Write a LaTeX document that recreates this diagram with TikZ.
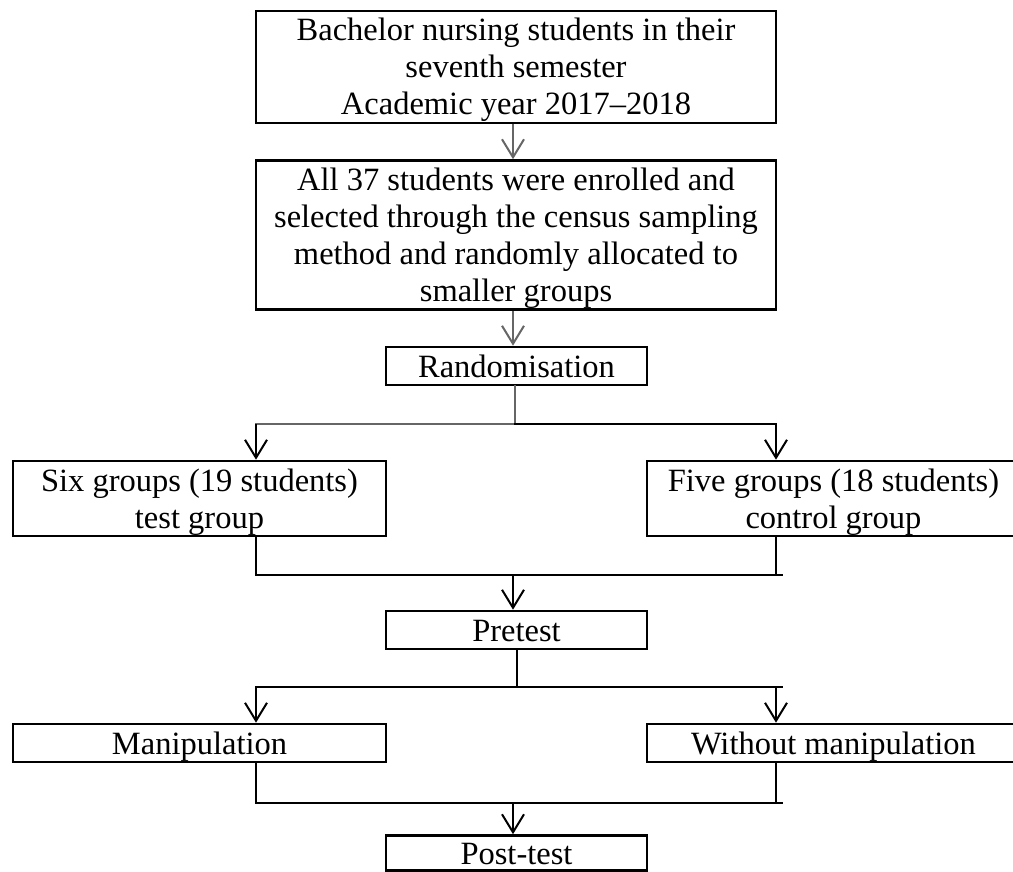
\documentclass[tikz,border=0pt]{standalone}
\usepackage{fontspec}
\setmainfont{Liberation Serif}
\usetikzlibrary{arrows.meta}
\newcommand\topstrut{\rule{0pt}{30pt}}
\newcommand\botstrut{\rule[-8pt]{0pt}{8pt}}
\begin{document}
\begin{tikzpicture}[x=1pt,y=-1pt,
  box/.style={draw, line width=2.6pt, inner sep=0pt, align=center,
    font=\fontsize{32.5}{37}\selectfont},
  conn/.style={line width=2pt, line cap=rect},
  arr/.style={line width=2pt, -{Straight Barb[length=18pt,width=22pt]}},
  greyline/.style={draw=black!60},
]
\clip (0,0) rectangle (1013,872);
\fill[white] (0,0) rectangle (1013,872);

\node[box, minimum width=520pt, minimum height=112pt] (top) at (516,67)
  {\topstrut Bachelor nursing students in their\\seventh semester\\Academic year 2017--2018\botstrut};
\node[box, minimum width=520pt, minimum height=149pt] (all) at (516,235)
  {\topstrut All 37 students were enrolled and\\selected through the census sampling\\method and randomly allocated to\\smaller groups\botstrut};
\node[box, minimum width=261pt, minimum height=38pt] (rand) at (516.5,366) {\topstrut Randomisation\botstrut};
\node[box, minimum width=373pt, minimum height=75pt] (six) at (199.5,498.5)
  {\topstrut Six groups (19 students)\\test group\botstrut};
\node[box, minimum width=373pt, minimum height=75pt] (five) at (833.5,498.5)
  {\topstrut Five groups (18 students)\\control group\botstrut};
\node[box, minimum width=261pt, minimum height=38pt] (pre) at (516.5,630) {\topstrut Pretest\botstrut};
\node[box, minimum width=373pt, minimum height=38pt] (man) at (199.5,743) {\topstrut Manipulation\botstrut};
\node[box, minimum width=373pt, minimum height=38pt] (wo) at (833.5,743) {\topstrut Without manipulation\botstrut};
\node[box, minimum width=261pt, minimum height=35pt] (post) at (516.5,853)
  {\rule{0pt}{28pt}Post-test\rule[-6pt]{0pt}{6pt}};

% column of the central arrows
\coordinate (cx) at (513,0);

% top arrows
\draw[arr, greyline] (top.south -| cx) -- (all.north -| cx);
\draw[arr, greyline] (all.south -| cx) -- (rand.north -| cx);

% split after randomisation
\coordinate (s1) at (515,424);
\coordinate (sL) at (256,424);
\coordinate (sR) at (776,424);
\draw[conn, greyline] (rand.south -| s1) -- (s1) -- (sL);
\draw[conn] (s1) -- (sR);
\draw[arr] (sL) -- (sL |- six.north);
\draw[arr] (sR) -- (sR |- five.north);

% merge to pretest
\coordinate (m1L) at (256,575);
\coordinate (m1R) at (776,575);
\coordinate (m1E) at (782,575);
\coordinate (m1C) at (513,575);
\draw[conn] (m1L |- six.south) -- (m1L) -- (m1E);
\draw[conn] (m1R |- five.south) -- (m1R);
\draw[arr] (m1C) -- (m1C |- pre.north);

% split after pretest
\coordinate (p1) at (517,687);
\coordinate (pL) at (256,687);
\coordinate (pR) at (776,687);
\coordinate (pE) at (782,687);
\draw[conn] (p1 |- pre.south) -- (p1);
\draw[conn] (pL) -- (pE);
\draw[arr] (pL) -- (pL |- man.north);
\draw[arr] (pR) -- (pR |- wo.north);

% merge to post-test
\coordinate (m2L) at (256,803);
\coordinate (m2R) at (776,803);
\coordinate (m2E) at (782,803);
\coordinate (m2C) at (513,803);
\draw[conn] (m2L |- man.south) -- (m2L) -- (m2E);
\draw[conn] (m2R |- wo.south) -- (m2R);
\draw[arr] (m2C) -- (m2C |- post.north);
\end{tikzpicture}
\end{document}
